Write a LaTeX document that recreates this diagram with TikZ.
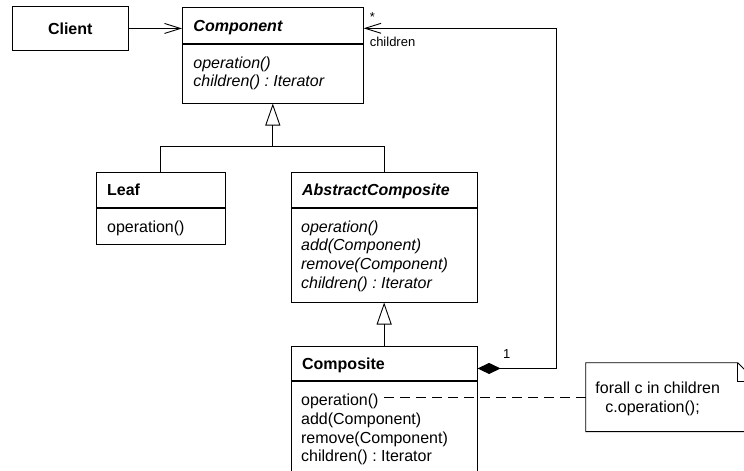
\documentclass[tikz,border=0pt]{standalone}
\usepackage{fontspec}
\setmainfont{Liberation Sans}
\usetikzlibrary{positioning,arrows.meta}
\frenchspacing

\newcommand{\umlsize}{\fontsize{16}{18.8}\selectfont}
\newcommand{\tagsize}{\fontsize{13}{15}\selectfont}

\tikzset{
  classhead/.style={draw, rectangle, anchor=north west, text width=#1, align=left,
    inner xsep=11pt, inner ysep=0pt, minimum height=36pt, text height=12pt, text depth=0pt,
    font=\umlsize\bfseries},
  classbody/.style={draw, rectangle, anchor=north west, minimum width=#1, inner sep=0pt},
  member/.style={anchor=base west, inner sep=0pt, font=\umlsize},
  tag/.style={anchor=base west, inner sep=0pt, font=\tagsize},
  inherit/.style={-{Triangle[open, length=22pt, width=15pt]}},
  assoc/.style={-{Straight Barb[length=16pt, width=10pt]}}
}

\begin{document}
\begin{tikzpicture}[x=1pt, y=-1pt, line width=0.9pt]
    \useasboundingbox (0,0) rectangle (744,471);
    \fill[white] (0,0) rectangle (744,471);

    % classes
    \node[draw, anchor=north west, minimum width=115.6pt, minimum height=44pt, inner sep=0pt,
      font=\umlsize\bfseries] (client) at (12,6) {Client};

    \node[classhead=158.7pt, font=\umlsize\bfseries\itshape] (cmp-head) at (182,7) {Component};
    \node[classbody=180.7pt, minimum height=58.7pt] (cmp-body) at (cmp-head.south west) {};
    \foreach \m [count=\i from 0] in {operation(), children() : Iterator}
        \node[member, font=\umlsize\itshape] (cmp-m\i) at (193, 68.3+18.6*\i) {\m};

    \node[classhead=107.3pt, minimum height=35.6pt] (leaf-head) at (95.7,171.7) {Leaf};
    \node[classbody=129.3pt, minimum height=36pt] (leaf-body) at (leaf-head.south west) {};
    \node[member] (leaf-m0) at (106.7,232) {operation()};

    \node[classhead=164pt, minimum height=35.6pt, font=\umlsize\bfseries\itshape] (ac-head) at (290.7,171.7) {AbstractComposite};
    \node[classbody=186pt, minimum height=93.4pt] (ac-body) at (ac-head.south west) {};
    \foreach \m [count=\i from 0] in {operation(), add(Component), remove(Component), children() : Iterator}
        \node[member, font=\umlsize\itshape] (ac-m\i) at (300.7, 232+18.9*\i) {\m};

    \node[classhead=164pt, minimum height=34pt] (comp-head) at (290.7,346) {Composite};
    \node[classbody=186pt, minimum height=95pt] (comp-body) at (comp-head.south west) {};
    \foreach \m [count=\i from 0] in {operation(), add(Component), remove(Component), children() : Iterator}
        \node[member] (comp-m\i) at (300.7, 405.5+18.8*\i) {\m};

    % note
    \node[anchor=north west, minimum width=170pt, minimum height=68pt, inner sep=0pt] (note) at (585.7,362.7) {};
    \draw (note.north west) -- ([xshift=-19pt]note.north east) -- ([yshift=-19pt]note.north east)
        -- (note.south east) -- (note.south west) -- cycle;
    \draw ([xshift=-19pt]note.north east) |- ([yshift=-19pt]note.north east);
    \node[member] (note-l1) at (595,393.3) {forall c in children};
    \node[member] (note-l2) at (605,412) {c.operation();};

    % connectors
    \draw[assoc] (client.east) -- (client.east -| cmp-head.west);

    \coordinate[below=43.3pt of cmp-body.south] (fork);
    \draw[inherit] (fork) -- (cmp-body.south);
    \draw (leaf-head.north) |- (fork) -| (ac-head.north);
    \draw[inherit] (comp-head.north) -- (ac-body.south);

    \coordinate (turn) at (556.7,28.3);
    \draw[{Diamond[length=23pt, width=11pt]}-{Straight Barb[length=16pt, width=10pt]}]
        ([yshift=-5pt]comp-head.east) -| (turn) -- (turn -| cmp-head.east);
    \node[tag] (mult-many) at (369.3,21.3) {*};
    \node[tag] (role) at (369.3,46.7) {children};
    \node[tag] (mult-one) at (502.7,358.3) {1};

    \draw[dash pattern=on 10pt off 6pt, shorten <=5pt] (comp-m0.east |- note.west) -- (note.west);
\end{tikzpicture}
\end{document}
